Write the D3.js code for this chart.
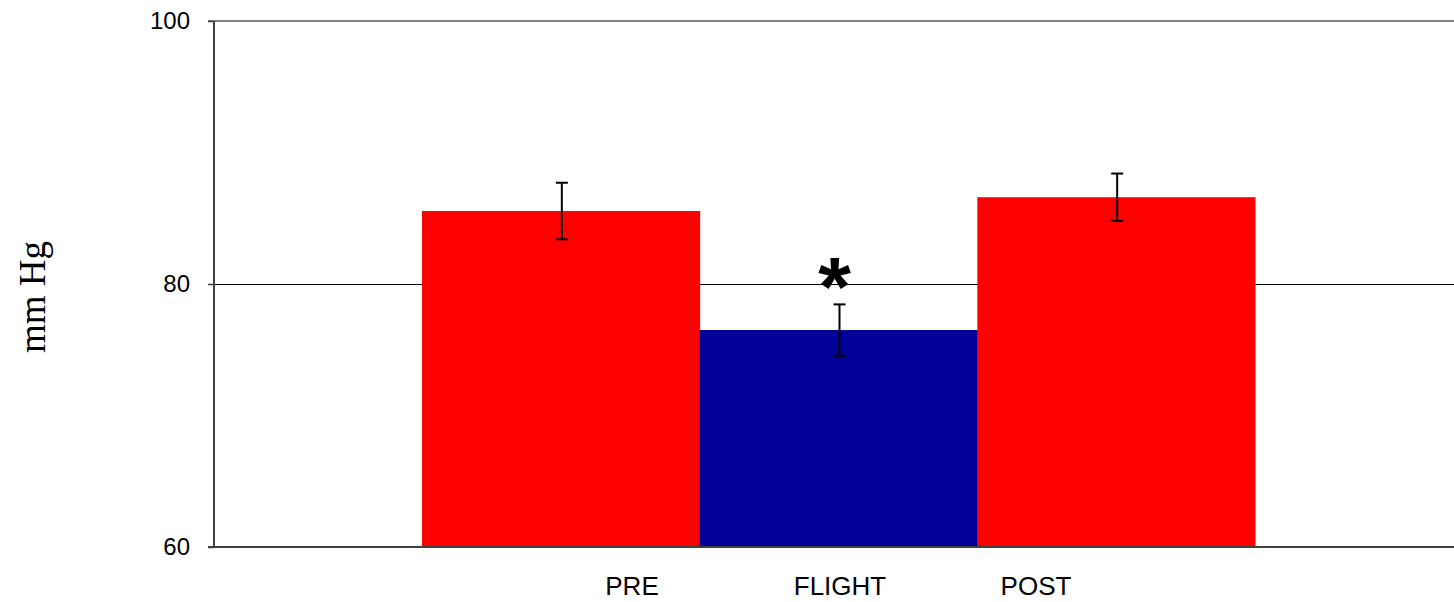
<!DOCTYPE html>
<html><head><meta charset="utf-8">
<script src="https://cdn.jsdelivr.net/npm/d3@7"></script>
<style>body{margin:0;background:#fff}svg{display:block}</style>
</head><body>
<svg id="c" width="1454" height="602"></svg>
<script>
const categories = ["PRE", "FLIGHT", "POST"];
const means = [85.55, 76.5, 86.6];
const errors = [2.15, 1.95, 1.8];
const colors = ["#FF0000", "#000099", "#FF0000"];
const yTicks = [60, 80, 100];
const significant = [false, true, false];

const svg = d3.select("#c");
const L = 214, R = 1454, T = 21, B = 547;
const y = d3.scaleLinear().domain([60, 100]).range([B, T]);
const x = d3.scaleBand().domain(categories).range([422, 1255]).padding(0);
const xl = d3.scaleOrdinal().domain(categories).range([632, 840, 1036]);

// gridline at 80
svg.append("g").selectAll("line").data(yTicks.filter(d => d > 60 && d < 100)).join("line")
  .attr("x1", L).attr("x2", R).attr("y1", d => Math.round(y(d)) + 0.5).attr("y2", d => Math.round(y(d)) + 0.5)
  .attr("stroke", "#000").attr("stroke-width", 1).attr("shape-rendering", "crispEdges");

// top line
svg.append("line").attr("x1", L - 6).attr("x2", R).attr("y1", y(100)).attr("y2", y(100))
  .attr("stroke", "#808080").attr("stroke-width", 2);

// bars
svg.append("g").selectAll("rect").data(categories).join("rect")
  .attr("x", d => x(d)).attr("width", x.bandwidth() + 0.5)
  .attr("y", (d, i) => y(means[i])).attr("height", (d, i) => y(60) - y(means[i]))
  .attr("fill", (d, i) => colors[i]);

// y axis
const yAxis = d3.axisLeft(y).tickValues(yTicks).tickSize(6).tickPadding(18);
const ga = svg.append("g").attr("transform", `translate(${L},0)`).call(yAxis);
ga.select(".domain").attr("stroke", "#404040").attr("stroke-width", 2).attr("d", `M0,${T}V${B}`);
ga.selectAll(".tick line").attr("stroke", "#404040").attr("stroke-width", 1.5);
ga.selectAll(".tick text").attr("font-family", "Liberation Sans, Arial, sans-serif").attr("font-size", 24).attr("fill", "#000");

// bottom axis
svg.append("line").attr("x1", L - 6).attr("x2", R).attr("y1", B).attr("y2", B)
  .attr("stroke", "#404040").attr("stroke-width", 2);

// error bars
const eg = svg.append("g").attr("stroke", "#000").attr("stroke-width", 2);
categories.forEach((c, i) => {
  const cx = x(c) + x.bandwidth() / 2 + 1;
  const y1 = y(means[i] + errors[i]), y2 = y(means[i] - errors[i]);
  eg.append("line").attr("x1", cx).attr("x2", cx).attr("y1", y1).attr("y2", y2);
  eg.append("line").attr("x1", cx - 6).attr("x2", cx + 6).attr("y1", y1).attr("y2", y1);
  eg.append("line").attr("x1", cx - 6).attr("x2", cx + 6).attr("y1", y2).attr("y2", y2);
});

// significance asterisk
svg.append("g").selectAll("text").data(categories.filter((c, i) => significant[i])).join("text")
  .attr("x", d => x(d) + x.bandwidth() / 2 - 4)
  .attr("y", 316)
  .attr("text-anchor", "middle")
  .attr("font-family", "Liberation Sans, Arial, sans-serif")
  .attr("font-weight", "bold").attr("font-size", 84)
  .text("*");

// category labels
svg.append("g").selectAll("text").data(categories).join("text")
  .attr("x", d => xl(d)).attr("y", 595)
  .attr("text-anchor", "middle")
  .attr("font-family", "Liberation Sans, Arial, sans-serif").attr("font-size", 26)
  .text(d => d);

// y label
svg.append("text")
  .attr("transform", "translate(45,297) rotate(-90)")
  .attr("text-anchor", "middle")
  .attr("font-family", "Liberation Serif, Times New Roman, serif").attr("font-size", 37)
  .text("mm Hg");
</script>
</body></html>
